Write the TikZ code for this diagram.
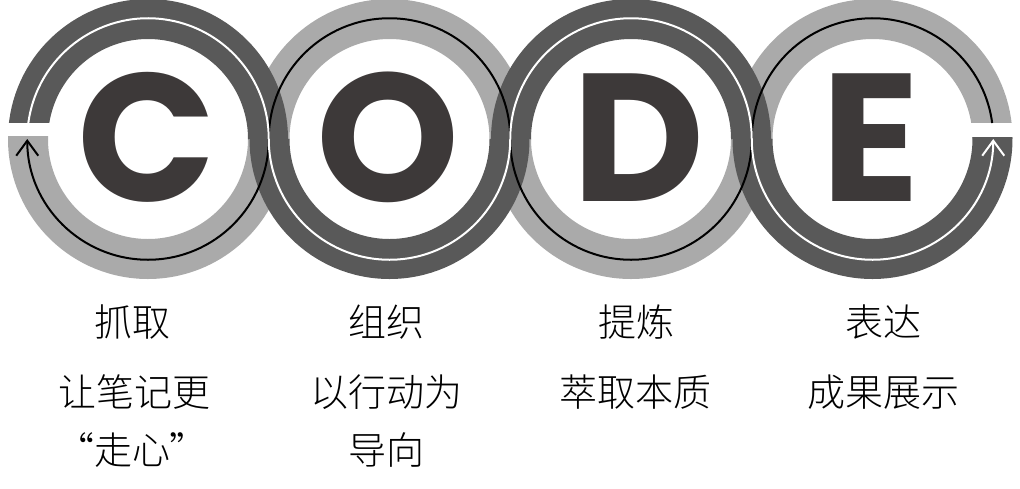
\documentclass[tikz,border=0pt]{standalone}
\usepackage{fontspec}
\setmainfont{Poppins}
\newfontfamily\cjk{Noto Sans CJK SC Light}
\usetikzlibrary{arrows.meta}
\definecolor{bandDark}{HTML}{595959}
\definecolor{bandLight}{HTML}{AAAAAA}
\definecolor{letterGray}{HTML}{3D3939}

\begin{document}
\begin{tikzpicture}[x=1pt,y=1pt,
  darkband/.style={draw=bandDark,line width=40pt},
  lightband/.style={draw=bandLight,line width=40pt},
  letter/.style={text=letterGray,inner sep=0pt,font=\fontsize{182}{182}\selectfont\bfseries},
  caption/.style={inner sep=0pt,font=\cjk\fontsize{38}{38}\selectfont},
  flow/.style={line width=2pt,-{Straight Barb[length=15pt,width=22pt]}}]
\useasboundingbox (0,0) rectangle (1020,-488);

\coordinate (c) at (148,-139);
\coordinate (o) at (389.5,-139);
\coordinate (d) at (631,-139);
\coordinate (e) at (872.5,-139);

% light halves first
\draw[lightband] ([shift={(178:120)}]c) arc[start angle=178,end angle=360,radius=120];
\draw[lightband] ([shift={(0:120)}]o) arc[start angle=0,end angle=180,radius=120];
\draw[lightband] ([shift={(180:120)}]d) arc[start angle=180,end angle=360,radius=120];
\draw[lightband] ([shift={(0:120)}]e) arc[start angle=0,end angle=180,radius=120];

% dark halves on top
\draw[darkband] ([shift={(0:120)}]c) arc[start angle=0,end angle=178,radius=120];
\draw[darkband] ([shift={(180:120)}]o) arc[start angle=180,end angle=360,radius=120];
\draw[darkband] ([shift={(0:120)}]d) arc[start angle=0,end angle=180,radius=120];
\draw[darkband] ([shift={(180:120)}]e) arc[start angle=180,end angle=361,radius=120];

% openings at both ends
\fill[white] (0,-123) rectangle (60,-136);
\fill[white] (960,-123) rectangle (1020,-137);

% the two running lines
\draw[flow,black] ([shift={(7.6:120.75)}]e) arc[start angle=7.6,end angle=180,radius=120.75]
  arc[start angle=0,end angle=-180,radius=120.75]
  arc[start angle=0,end angle=180,radius=120.75]
  arc[start angle=0,end angle=-180,radius=120.75];
\draw[flow,white] ([shift={(172.4:120.75)}]c) arc[start angle=172.4,end angle=0,radius=120.75]
  arc[start angle=180,end angle=360,radius=120.75]
  arc[start angle=180,end angle=0,radius=120.75]
  arc[start angle=180,end angle=360,radius=120.75];

\node[letter] (letterC) at (146.5,-137.5) {C};
\node[letter] (letterO) at (388,-137.5) {O};
\node[letter] (letterD) at (639,-137.5) {D};
\node[letter] (letterE) at (871,-137.5) {E};

\node[caption] (headC) at (132,-322) {抓取};
\node[caption] (lineC) at (134,-392) {让笔记更};
\node[caption] (tailC) at (132,-450) {“走心”};
\node[caption] (headO) at (386,-322) {组织};
\node[caption] (lineO) at (386,-392) {以行动为};
\node[caption] (tailO) at (386,-450) {导向};
\node[caption] (headD) at (636,-322) {提炼};
\node[caption] (lineD) at (635,-392) {萃取本质};
\node[caption] (headE) at (883,-322) {表达};
\node[caption] (lineE) at (883,-392) {成果展示};
\end{tikzpicture}
\end{document}
